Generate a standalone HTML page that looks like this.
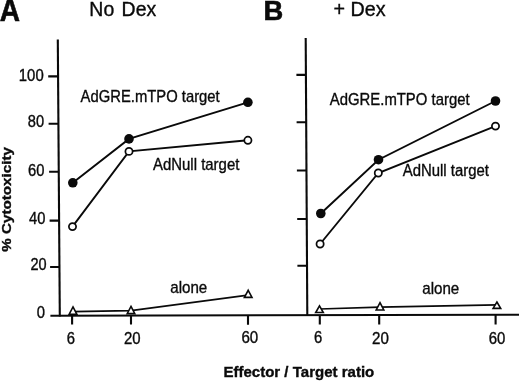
<!DOCTYPE html>
<html>
<head>
<meta charset="utf-8">
<title>Cytotoxicity</title>
<style>
html,body{margin:0;padding:0;background:#fff;}
body{width:520px;height:381px;overflow:hidden;}
svg{display:block;}
text{font-family:"Liberation Sans",Arial,sans-serif;fill:#0a0a0a;stroke:#0a0a0a;stroke-width:0.35;}
.ln{stroke:#0a0a0a;stroke-width:1.9;fill:none;}
.ax{stroke:#0a0a0a;stroke-width:2.1;fill:none;}
.fc{fill:#0a0a0a;stroke:none;}
.oc{fill:#fff;stroke:#0a0a0a;stroke-width:1.75;}
.tr{fill:#fff;stroke:#0a0a0a;stroke-width:1.6;stroke-linejoin:miter;}
</style>
</head>
<body>
<svg width="520" height="381" viewBox="0 0 520 381">
<rect width="520" height="381" fill="#fff"/>
<!-- panel letters -->
<text font-weight="bold" transform="translate(-0.3 20.8) scale(0.92 1)" font-size="30.5" style="stroke-width:0.6">A</text>
<text font-weight="bold" transform="translate(263.4 20.4) scale(0.96 1)" font-size="28.5" style="stroke-width:0.6">B</text>
<!-- axes -->
<path class="ax" d="M57.8 39.5L59.8 316.6"/>
<path class="ax" d="M305.7 38L307.3 315.9"/>
<path class="ax" d="M50.4 315.8L519 314.7"/>
<!-- y ticks A -->
<path class="ax" d="M48.2 76.4H58.1M48.6 123.8H58.4M49.1 171.8H58.8M49.6 220.6H59.1M50.1 267H59.5"/>
<!-- y ticks B -->
<path class="ax" d="M296.4 74.9H305.9M296.6 122.3H306.2M296.9 170.5H306.5M297.2 219H306.7M297.4 265.8H307"/>
<!-- x ticks -->
<path class="ax" d="M72.1 315.7V324.6M131 315.6V324.6M248 315.3V324.7M319.8 315.1V324.6M379.2 314.9V324.6M495.6 314.7V324.6"/>
<!-- text -->
<text transform="translate(89.35 15.7) scale(0.9985 1)" font-size="19.5" word-spacing="2">No Dex</text>
<text transform="translate(333.44 15.6) scale(1.0119 1)" font-size="19.5" >+ Dex</text>
<text transform="translate(18.84 80.6) scale(0.9551 1)" font-size="15.6" >100</text>
<text transform="translate(27.83 127.4) scale(0.9394 1)" font-size="15.6" >80</text>
<text transform="translate(28.03 175.7) scale(0.9455 1)" font-size="15.6" >60</text>
<text transform="translate(28.96 223.8) scale(0.9433 1)" font-size="15.6" >40</text>
<text transform="translate(30.43 270.3) scale(0.9303 1)" font-size="15.6" >20</text>
<text transform="translate(36.84 317.7) scale(0.9500 1)" font-size="15.6" >0</text>
<text transform="translate(66.69 344.2) scale(0.9500 1)" font-size="15.6" >6</text>
<text transform="translate(124.02 344.3) scale(0.9576 1)" font-size="15.6" >20</text>
<text transform="translate(241.42 343.3) scale(0.9697 1)" font-size="15.6" >60</text>
<text transform="translate(314.09 343.4) scale(0.9500 1)" font-size="15.6" >6</text>
<text transform="translate(372.02 343.6) scale(0.9697 1)" font-size="15.6" >20</text>
<text transform="translate(488.72 343.8) scale(0.9576 1)" font-size="15.6" >60</text>
<text transform="translate(80.60 101.6) scale(0.9143 1)" font-size="16.2" >AdGRE.mTPO target</text>
<text transform="translate(153.00 170.4) scale(0.9227 1)" font-size="16.2" >AdNull target</text>
<text transform="translate(170.23 293.4) scale(0.9351 1)" font-size="16.2" >alone</text>
<text transform="translate(329.80 104.6) scale(0.9195 1)" font-size="16.2" >AdGRE.mTPO target</text>
<text transform="translate(402.80 176.4) scale(0.9205 1)" font-size="16.2" >AdNull target</text>
<text transform="translate(422.23 294.0) scale(0.9351 1)" font-size="16.2" >alone</text>
<text transform="translate(223.44 376.7) scale(1.0091 1)" font-size="14.9" font-weight="bold" >Effector / Target ratio</text>
<text font-weight="bold" transform="translate(11.3 251.7) rotate(-90) scale(1.134 1)" font-size="13.4">% Cytotoxicity</text>
<!-- panel A series -->
<path class="ln" d="M72.8 182.8L129 138.9L247.9 102.3"/>
<path class="ln" d="M72.5 226.6L129 151.4L247.9 140.3"/>
<path class="ln" style="stroke-width:1.7" d="M73 311.6L131 310.6L248 295.1"/>
<circle class="fc" cx="72.8" cy="182.8" r="4.8"/>
<circle class="fc" cx="129" cy="138.9" r="4.8"/>
<circle class="fc" cx="247.9" cy="102.3" r="4.8"/>
<circle class="oc" cx="72.5" cy="226.6" r="3.6"/>
<circle class="oc" cx="129" cy="151.4" r="3.6"/>
<circle class="oc" cx="247.9" cy="140.3" r="3.6"/>
<path class="tr" d="M73.0 306.90L76.80 314.20H69.20Z"/>
<path class="tr" d="M131 306.40L134.80 313.60H127.20Z"/>
<path class="tr" d="M248.2 290.30L252.00 297.40H244.40Z"/>
<!-- panel B series -->
<path class="ln" d="M320.8 213.5L378.5 159.7L495.5 101"/>
<path class="ln" d="M320.1 244L378.3 173L495.5 126.1"/>
<path class="ln" style="stroke-width:1.7" d="M319.5 309L380 307.2L497 304.8"/>
<circle class="fc" cx="320.8" cy="213.5" r="4.8"/>
<circle class="fc" cx="378.5" cy="159.7" r="4.8"/>
<circle class="fc" cx="495.5" cy="101" r="4.8"/>
<circle class="oc" cx="320.1" cy="244" r="3.6"/>
<circle class="oc" cx="378.3" cy="173" r="3.6"/>
<circle class="oc" cx="495.5" cy="126.1" r="3.6"/>
<path class="tr" d="M319.5 305.90L323.30 312.50H315.70Z"/>
<path class="tr" d="M380 302.70L383.80 310.00H376.20Z"/>
<path class="tr" d="M496.9 302.00L500.70 308.35H493.10Z"/>
</svg>
</body>
</html>
